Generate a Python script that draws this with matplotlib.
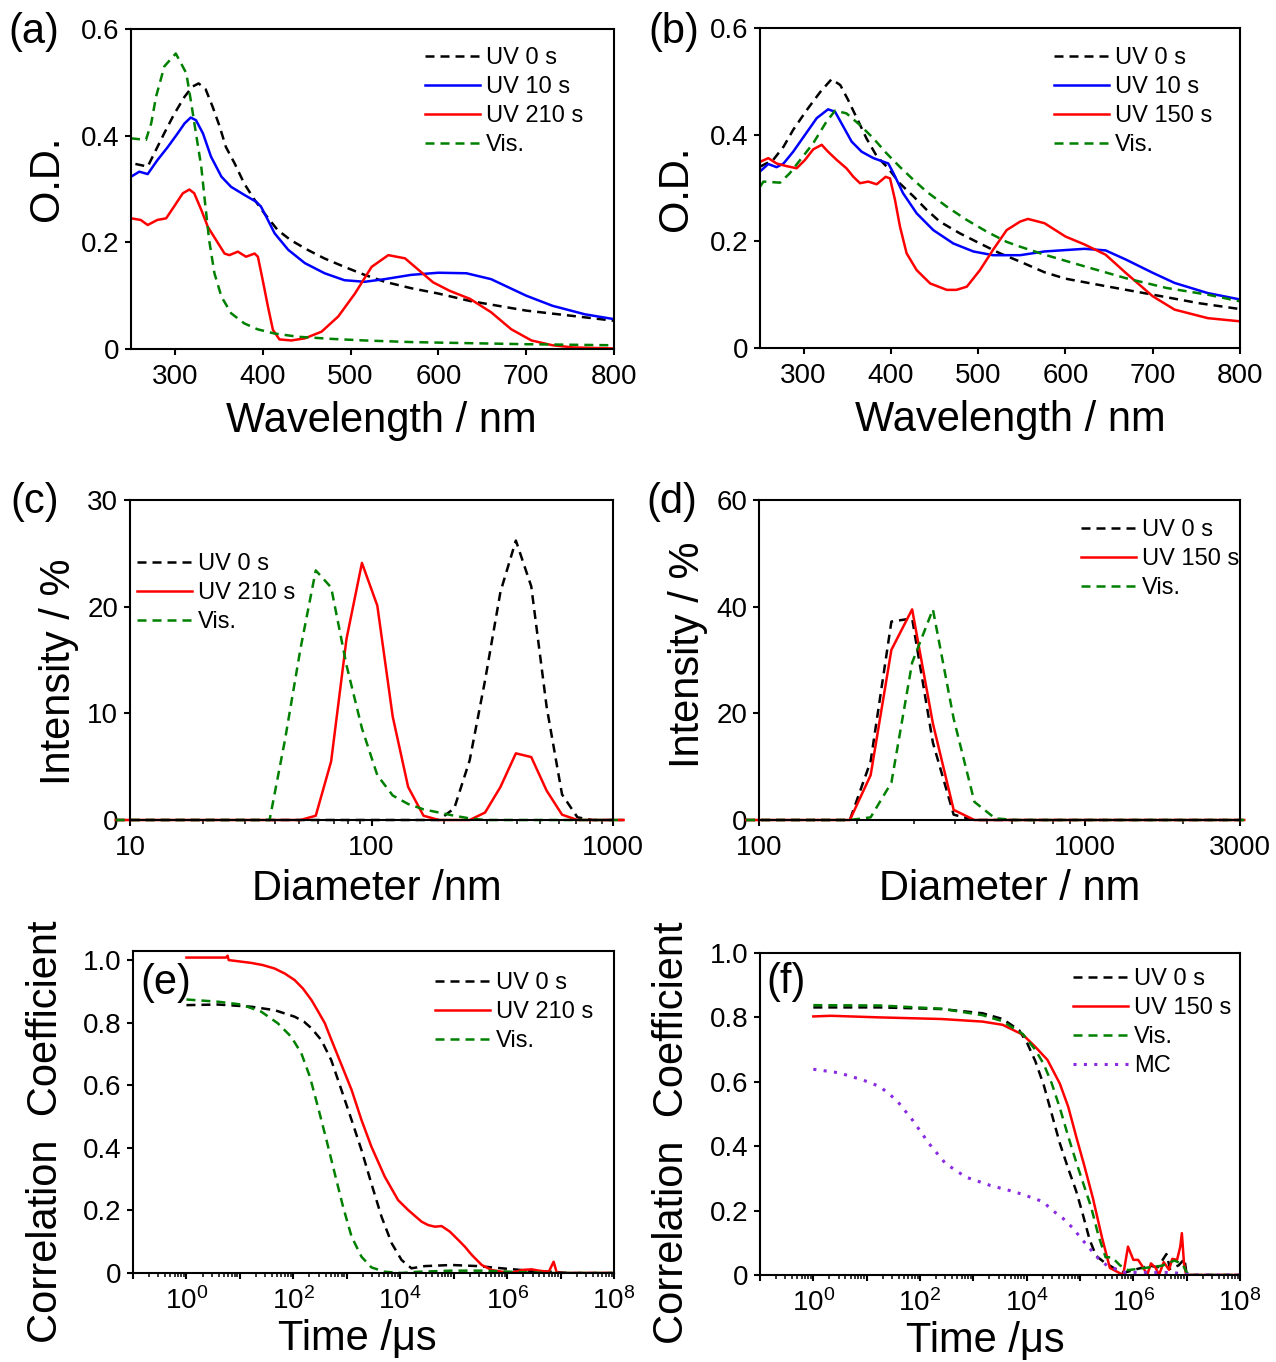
import numpy as np
import matplotlib
matplotlib.use('Agg')
import matplotlib.pyplot as plt
from matplotlib.ticker import LogLocator, NullFormatter, FixedLocator

plt.rcParams['font.family'] = ['Liberation Sans', 'DejaVu Sans']
plt.rcParams['mathtext.fontset'] = 'custom'
plt.rcParams['mathtext.rm'] = 'Liberation Sans'
plt.rcParams['mathtext.it'] = 'Liberation Sans:italic'
plt.rcParams['mathtext.bf'] = 'Liberation Sans:bold'
plt.rcParams['axes.linewidth'] = 1.5

# ---------------- (a) UV-vis, 210 s ----------------
a_uv0_wl = [255, 269, 288, 299, 311, 320, 327, 335, 343, 351, 358, 368, 379, 391, 402, 417, 432,
            451, 470, 493, 516, 539, 569, 600, 636, 700, 753, 800]
a_uv0_od = [0.347, 0.342, 0.405, 0.44, 0.473, 0.492, 0.498, 0.487, 0.454, 0.417, 0.379, 0.348, 0.31,
            0.279, 0.254, 0.223, 0.204, 0.186, 0.17, 0.154, 0.139, 0.126, 0.114, 0.104, 0.09, 0.072,
            0.062, 0.053]
a_uv10_wl = [250, 259.5, 269, 280, 292, 303, 311, 318, 324, 332, 341, 353, 364, 379, 392.6, 398, 404,
             413.5, 429, 448, 470.5, 493, 516, 539, 569, 600, 632, 660, 700, 730, 767, 800]
a_uv10_od = [0.323, 0.3325, 0.328, 0.354, 0.379, 0.404, 0.423, 0.434, 0.429, 0.404, 0.361, 0.323,
             0.304, 0.289, 0.276, 0.267, 0.248, 0.217, 0.186, 0.161, 0.142, 0.129, 0.126, 0.131,
             0.139, 0.143, 0.142, 0.131, 0.1, 0.081, 0.065, 0.056]
a_uv210_wl = [250, 261, 269, 280, 290, 299, 309, 316.5, 322, 330, 337.5, 347, 356.5, 362, 371.7, 381,
              390.7, 394.5, 400, 406, 411.6, 419, 432.5, 448, 467, 486, 505, 524, 543, 562, 594, 613,
              636, 660, 683, 706, 730, 753, 800]
a_uv210_od = [0.245, 0.242, 0.2325, 0.242, 0.245, 0.267, 0.292, 0.299, 0.292, 0.261, 0.229, 0.204,
              0.179, 0.176, 0.1825, 0.173, 0.179, 0.173, 0.129, 0.079, 0.036, 0.018, 0.016, 0.02,
              0.0325, 0.061, 0.104, 0.154, 0.176, 0.17, 0.125, 0.109, 0.094, 0.069, 0.037, 0.016,
              0.007, 0.003, 0.001]
a_vis_wl = [250, 267, 273, 278.5, 288, 301, 313, 318, 324, 330, 334, 339, 345, 353, 364, 379, 394,
            413.5, 440, 478, 516, 569, 600, 700, 800]
a_vis_od = [0.395, 0.392, 0.423, 0.473, 0.53, 0.554, 0.517, 0.467, 0.404, 0.342, 0.279, 0.204, 0.142,
            0.098, 0.067, 0.048, 0.037, 0.029, 0.023, 0.019, 0.016, 0.013, 0.012, 0.009, 0.007]

# ---------------- (b) UV-vis, 150 s ----------------
b_uv0_wl = [250, 265, 277, 288, 303.5, 319, 332, 342, 351, 363, 372, 384, 397, 410, 426, 441, 456,
            479, 502, 525, 548, 576, 600, 646, 700, 753, 800]
b_uv0_od = [0.34, 0.3525, 0.3775, 0.409, 0.446, 0.48, 0.504, 0.493, 0.465, 0.424, 0.393, 0.359, 0.337,
            0.309, 0.284, 0.259, 0.237, 0.215, 0.196, 0.1775, 0.162, 0.142, 0.13, 0.116, 0.1, 0.084,
            0.073]
b_uv10_wl = [250, 259.5, 269, 277, 288, 300, 315, 328, 336, 345.5, 355, 366.5, 380, 397, 403, 414,
             429.5, 448.6, 471.5, 494.5, 517, 548, 576, 622, 646, 669, 700, 725, 763, 800]
b_uv10_od = [0.331, 0.345, 0.339, 0.346, 0.368, 0.396, 0.431, 0.4475, 0.443, 0.415, 0.387, 0.368,
             0.356, 0.346, 0.3275, 0.29, 0.2525, 0.221, 0.196, 0.181, 0.174, 0.174, 0.181, 0.186,
             0.183, 0.166, 0.141, 0.122, 0.103, 0.091]
b_uv150_wl = [250, 259.5, 269, 280.5, 292, 301.5, 311, 320.7, 328, 338, 349, 357, 364.6, 374, 383.7,
              394, 399, 404.7, 410.4, 418, 429.5, 445, 464, 475, 487, 502, 517, 532.6, 548, 557, 576,
              600, 622, 646, 669, 700, 725, 763, 800]
b_uv150_od = [0.349, 0.356, 0.346, 0.341, 0.337, 0.3525, 0.3725, 0.381, 0.368, 0.3525, 0.337, 0.321,
              0.309, 0.312, 0.307, 0.321, 0.318, 0.2775, 0.2275, 0.1775, 0.146, 0.121, 0.109, 0.109,
              0.115, 0.146, 0.184, 0.221, 0.237, 0.242, 0.234, 0.209, 0.194, 0.175, 0.141, 0.097,
              0.072, 0.056, 0.05]
b_vis_wl = [250, 254, 273, 284, 296, 311, 326, 336, 349, 364.6, 380, 395, 410, 426, 441, 464, 487,
            510, 532.6, 548, 576, 622, 669, 716, 763, 800]
b_vis_od = [0.3025, 0.312, 0.31, 0.3275, 0.3525, 0.384, 0.424, 0.445, 0.44, 0.418, 0.393, 0.365, 0.34,
            0.315, 0.293, 0.265, 0.24, 0.218, 0.199, 0.19, 0.175, 0.153, 0.131, 0.1125, 0.1, 0.0875]

# ---------------- (c) DLS size, 210 s ----------------
c_diam = [8.721, 10.1, 11.7, 13.54, 15.69, 18.17, 21.04, 24.36, 28.21, 32.67, 37.84, 43.82, 50.75,
          58.77, 68.06, 78.82, 91.28, 105.7, 122.4, 141.8, 164.2, 190.1, 220.2, 255.0, 295.3, 342.0,
          396.1, 458.7, 531.2, 615.1, 712.4, 825.0, 955.4, 1106]
c_uv0 = [0, 0, 0, 0, 0, 0, 0, 0, 0, 0, 0, 0, 0, 0, 0, 0, 0, 0, 0, 0, 0, 0,
         1.1, 5.6, 13.1, 21.4, 26.2, 21.9, 10.6, 2.4, 0.25, 0, 0, 0]
c_uv210 = [0, 0, 0, 0, 0, 0, 0, 0, 0, 0, 0, 0, 0, 0.4, 5.5, 17.0, 24.1, 20.1, 9.7, 3.1, 0.4, 0,
           0, 0, 0.7, 3.1, 6.25, 5.9, 2.75, 0.5, 0, 0, 0, 0]
c_vis = [0, 0, 0, 0, 0, 0, 0, 0, 0, 0, 0, 7.5, 16.0, 23.4, 21.8, 14.5, 8.6, 4.2, 2.3, 1.5, 1.0, 0.7,
         0.4, 0.15, 0, 0, 0, 0, 0, 0, 0, 0, 0, 0]

# ---------------- (d) DLS size, 150 s ----------------
d_diam = [91.28, 105.7, 122.4, 141.8, 164.2, 190.1, 220.2, 255.0, 295.3, 342.0, 396.1, 458.7, 531.2,
          615.1, 712.4, 825.0, 955.4, 1106, 1281, 1484, 1718, 1990, 2305, 2669, 3091]
d_uv0 = [0, 0, 0, 0, 0, 0, 11.0, 37.2, 37.8, 14.5, 1.0, 0, 0, 0, 0, 0, 0, 0, 0, 0, 0, 0, 0, 0, 0]
d_uv150 = [0, 0, 0, 0, 0, 0, 8.4, 31.9, 39.5, 18.1, 1.9, 0, 0, 0, 0, 0, 0, 0, 0, 0, 0, 0, 0, 0, 0]
d_vis = [0, 0, 0, 0, 0, 0, 0.5, 7.0, 29.5, 39.5, 19.0, 3.4, 0.3, 0, 0, 0, 0, 0, 0, 0, 0, 0, 0, 0, 0]

# ---------------- (e) correlation, 210 s (time as log10 of us) ----------------
e_uv0_lt = [0, 0.59, 1.21, 1.65, 2.025, 2.2, 2.34, 2.525, 2.71, 2.9, 3.09, 3.275, 3.46, 3.65, 3.84,
            4.025, 4.21, 4.46, 4.96, 5.46, 5.9, 6.4, 6.9, 7.15, 8.0]
e_uv0 = [0.856, 0.858, 0.851, 0.84, 0.819, 0.803, 0.782, 0.744, 0.68, 0.585, 0.489, 0.393, 0.286,
         0.18, 0.095, 0.0415, 0.015, 0.022, 0.0256, 0.022, 0.015, 0.0075, 0.003, 0.0, 0.0]
e_uv210_lt = [0, 0.74, 0.77, 0.79, 1.21, 1.43, 1.65, 1.84, 2.025, 2.18, 2.34, 2.46, 2.59, 2.71, 2.84,
              3.09, 3.275, 3.46, 3.71, 3.96, 4.15, 4.4, 4.525, 4.65, 4.775, 4.93, 5.09, 5.21, 5.34,
              5.525, 5.71, 5.9, 6.09, 6.275, 6.46, 6.59, 6.78, 6.87, 6.93, 7.03, 8.0]
e_uv210 = [1.008, 1.008, 1.014, 1.0, 0.991, 0.984, 0.973, 0.957, 0.936, 0.909, 0.872, 0.837, 0.798,
           0.746, 0.691, 0.585, 0.489, 0.404, 0.308, 0.233, 0.201, 0.164, 0.153, 0.148, 0.15, 0.132,
           0.105, 0.084, 0.0575, 0.0256, 0.0096, 0.004, 0.001, 0.0096, 0.0117, 0.0075, 0.004, 0.036,
           0.001, 0.0, 0.0]
e_vis_lt = [0, 0.59, 1.025, 1.4, 1.71, 1.96, 2.15, 2.31, 2.46, 2.62, 2.775, 2.93, 3.09, 3.275, 3.46,
            3.71, 4.025, 4.34, 4.96, 5.59, 6.21, 6.84, 8.0]
e_vis = [0.874, 0.867, 0.858, 0.835, 0.798, 0.755, 0.702, 0.627, 0.531, 0.425, 0.318, 0.212, 0.116,
         0.052, 0.018, 0.004, 0.0, 0.004, 0.0075, 0.0075, 0.003, 0.0, 0.0]

# ---------------- (f) correlation, 150 s ----------------
f_uv0_lt = [0, 1.25, 2.4, 3.17, 3.55, 3.86, 4.01, 4.16, 4.32, 4.47, 4.62, 4.78, 4.93, 5.05, 5.18,
            5.3, 5.45, 5.6, 5.75, 5.85, 6.08, 6.31, 6.46, 6.62, 6.69, 6.85, 6.96, 7.0, 8.0]
f_uv0 = [0.831, 0.831, 0.826, 0.813, 0.795, 0.76, 0.72, 0.665, 0.59, 0.5, 0.41, 0.33, 0.26, 0.19,
         0.11, 0.06, 0.04, 0.025, 0.01, 0.008, 0.019, 0.029, 0.024, 0.065, 0.019, 0.03, 0.05, 0.0, 0.0]
f_uv150_lt = [0, 0.33, 1.25, 2.4, 3.17, 3.55, 3.93, 4.16, 4.39, 4.62, 4.78, 4.93, 5.08, 5.24, 5.41,
              5.56, 5.81, 5.9, 6.0, 6.09, 6.19, 6.26, 6.33, 6.42, 6.48, 6.57, 6.67, 6.73, 6.82, 6.88,
              6.91, 6.95, 6.99, 8.0]
f_uv150 = [0.803, 0.805, 0.8, 0.795, 0.787, 0.777, 0.746, 0.709, 0.668, 0.595, 0.522, 0.429, 0.34,
           0.24, 0.118, 0.022, 0.0, 0.088, 0.047, 0.047, 0.022, 0.0, 0.036, 0.022, 0.0, 0.04, 0.016,
           0.05, 0.047, 0.088, 0.13, 0.036, 0.0, 0.0]
f_vis_lt = [0, 1.25, 2.4, 3.17, 3.55, 3.93, 4.16, 4.32, 4.47, 4.62, 4.78, 4.93, 5.09, 5.21, 5.35,
            5.48, 5.6, 5.75, 5.9, 6.08, 6.31, 6.54, 6.77, 6.92, 7.0, 7.08, 8.0]
f_vis = [0.838, 0.837, 0.827, 0.807, 0.788, 0.748, 0.7, 0.655, 0.595, 0.52, 0.43, 0.35, 0.27, 0.21,
         0.12, 0.055, 0.055, 0.03, 0.015, 0.019, 0.024, 0.029, 0.045, 0.034, 0.008, 0.0, 0.0]
f_mc_lt = [0, 0.48, 0.94, 1.25, 1.56, 1.86, 2.17, 2.48, 2.86, 3.32, 3.78, 4.05, 4.3, 4.49, 4.68, 4.87,
           5.02, 5.18, 5.34, 5.53, 5.68, 5.85, 6.23, 6.62, 6.92, 7.08, 8.0]
f_mc = [0.639, 0.628, 0.605, 0.585, 0.543, 0.481, 0.408, 0.346, 0.304, 0.278, 0.258, 0.243, 0.228,
        0.2, 0.176, 0.145, 0.114, 0.083, 0.052, 0.026, 0.018, 0.008, 0.008, 0.008, 0.005, 0.0, 0.0]

# ---------------- figure ----------------
W, H = 1276, 1362
fig = plt.figure(figsize=(W / 100, H / 100), dpi=100)


def px_axes(l, t, r, b):
    return fig.add_axes([l / W, 1 - b / H, (r - l) / W, (b - t) / H])


BLACK, BLUE, RED, GREEN, PURPLE = 'black', '#0000ff', '#ff0000', '#008000', '#8a2be2'
DASH = (3.6, 2.4)
LW = 1.8


def style(ax):
    ax.tick_params(which='major', direction='out', length=4.5, width=1.5, labelsize=20, pad=4)
    ax.tick_params(axis='x', which='major', pad=6)
    ax.tick_params(which='minor', direction='out', length=2.6, width=1.1)


def legend(ax, x, y):
    ax.legend(loc='upper left', bbox_to_anchor=(x, y), frameon=False, fontsize=17,
              handlelength=2.33, handletextpad=0.25, labelspacing=0.3, borderpad=0,
              borderaxespad=0)


def letter(x, y, s):
    fig.text(x / W, 1 - y / H, s, fontsize=30, ha='left', va='center')


def uvvis(ax, series, xlab_x, ylab_y):
    for wl, od, c, dashed, lab in series:
        if dashed:
            ax.plot(wl, od, color=c, lw=LW, dashes=DASH, label=lab)
        else:
            ax.plot(wl, od, color=c, lw=LW, label=lab)
    ax.set_xlim(250, 800)
    ax.set_ylim(0, 0.6)
    ax.set_xticks([300, 400, 500, 600, 700, 800])
    ax.set_yticks([0, 0.2, 0.4, 0.6], ['0', '0.2', '0.4', '0.6'])
    style(ax)
    ax.set_xlabel('Wavelength / nm', fontsize=30)
    ax.xaxis.set_label_coords(xlab_x, -0.162)
    ax.set_ylabel('O.D.', fontsize=30)
    ax.yaxis.set_label_coords(-0.1325, ylab_y)


# (a)
ax = px_axes(131, 29, 614, 349)
uvvis(ax, [(a_uv0_wl, a_uv0_od, BLACK, True, 'UV 0 s'),
           (a_uv10_wl, a_uv10_od, BLUE, False, 'UV 10 s'),
           (a_uv210_wl, a_uv210_od, RED, False, 'UV 210 s'),
           (a_vis_wl, a_vis_od, GREEN, True, 'Vis.')], 0.518, 0.534)
legend(ax, 0.609, 0.944)
letter(8, 32, '(a)')

# (b)
ax = px_axes(760, 28, 1240, 348)
uvvis(ax, [(b_uv0_wl, b_uv0_od, BLACK, True, 'UV 0 s'),
           (b_uv10_wl, b_uv10_od, BLUE, False, 'UV 10 s'),
           (b_uv150_wl, b_uv150_od, RED, False, 'UV 150 s'),
           (b_vis_wl, b_vis_od, GREEN, True, 'Vis.')], 0.521, 0.5)
legend(ax, 0.6125, 0.94)
letter(648, 32, '(b)')

# (c)
ax = px_axes(130, 500, 613, 820)
ax.plot(c_diam, c_uv0, color=BLACK, lw=LW, dashes=DASH, label='UV 0 s', clip_on=False)
ax.plot(c_diam, c_uv210, color=RED, lw=LW, label='UV 210 s', clip_on=False)
ax.plot(c_diam, c_vis, color=GREEN, lw=LW, dashes=DASH, label='Vis.', clip_on=False)
ax.set_xscale('log')
ax.set_xlim(10, 1000)
ax.set_ylim(0, 30)
ax.xaxis.set_major_locator(FixedLocator([10, 100, 1000]))
ax.set_xticklabels(['10', '100', '1000'])
ax.xaxis.set_minor_locator(FixedLocator([20, 30, 40, 50, 60, 70, 80, 90,
                                         200, 300, 400, 500, 600, 700, 800, 900]))
ax.xaxis.set_minor_formatter(NullFormatter())
ax.set_yticks([0, 10, 20, 30])
style(ax)
ax.set_xlabel('Diameter /nm', fontsize=30)
ax.xaxis.set_label_coords(0.511, -0.153)
ax.set_ylabel('Intensity / %', fontsize=30)
ax.yaxis.set_label_coords(-0.106, 0.4625)
legend(ax, 0.0145, 0.834)
letter(10, 502, '(c)')

# (d)
ax = px_axes(759, 500, 1240, 820)
ax.plot(d_diam, d_uv0, color=BLACK, lw=LW, dashes=DASH, label='UV 0 s', clip_on=False)
ax.plot(d_diam, d_uv150, color=RED, lw=LW, label='UV 150 s', clip_on=False)
ax.plot(d_diam, d_vis, color=GREEN, lw=LW, dashes=DASH, label='Vis.', clip_on=False)
ax.set_xscale('log')
ax.set_xlim(100, 3000)
ax.set_ylim(0, 60)
ax.xaxis.set_major_locator(FixedLocator([100, 1000, 3000]))
ax.set_xticklabels(['100', '1000', '3000'])
ax.xaxis.set_minor_locator(FixedLocator([200, 300, 400, 500, 600, 700, 800, 900, 2000]))
ax.xaxis.set_minor_formatter(NullFormatter())
ax.set_yticks([0, 20, 40, 60])
style(ax)
ax.set_xlabel('Diameter / nm', fontsize=30)
ax.xaxis.set_label_coords(0.522, -0.153)
ax.set_ylabel('Intensity / %', fontsize=30)
ax.yaxis.set_label_coords(-0.106, 0.516)
legend(ax, 0.669, 0.94)
letter(646, 502, '(d)')


def corr(ax, series, ytop, xlab_x, ylab_x, ylab_y):
    for lt, v, c, ls, lab in series:
        t = 10.0 ** np.array(lt)
        if ls == 'dash':
            ax.plot(t, v, color=c, lw=LW, dashes=DASH, label=lab)
        elif ls == 'dot':
            ax.plot(t, v, color=c, lw=2.2, dashes=(1, 2.4), label=lab)
        else:
            ax.plot(t, v, color=c, lw=LW, label=lab)
    ax.set_xscale('log')
    ax.set_xlim(0.1, 1e8)
    ax.set_ylim(0, ytop)
    ax.xaxis.set_major_locator(FixedLocator([10.0 ** k for k in range(-1, 9)]))
    ax.set_xticklabels(['$10^{%d}$' % k if k >= 0 and k % 2 == 0 else '' for k in range(-1, 9)])
    ax.xaxis.set_minor_locator(LogLocator(base=10, subs=range(2, 10), numticks=30))
    ax.xaxis.set_minor_formatter(NullFormatter())
    ax.set_yticks([0, 0.2, 0.4, 0.6, 0.8, 1.0], ['0', '0.2', '0.4', '0.6', '0.8', '1.0'])
    style(ax)
    ax.set_xlabel('Time /\u03bcs', fontsize=30)
    ax.xaxis.set_label_coords(xlab_x, -0.142)
    ax.set_ylabel('Correlation  Coefficient', fontsize=30)
    ax.yaxis.set_label_coords(ylab_x, ylab_y)


# (e)
ax = px_axes(133, 951, 614, 1273)
corr(ax, [(e_uv0_lt, e_uv0, BLACK, 'dash', 'UV 0 s'),
          (e_uv210_lt, e_uv210, RED, 'solid', 'UV 210 s'),
          (e_vis_lt, e_vis, GREEN, 'dash', 'Vis.')], 1.029, 0.466, -0.139, 0.438)
legend(ax, 0.628, 0.935)
letter(140, 983, '(e)')

# (f)
ax = px_axes(760, 953, 1240, 1275)
corr(ax, [(f_uv0_lt, f_uv0, BLACK, 'dash', 'UV 0 s'),
          (f_uv150_lt, f_uv150, RED, 'solid', 'UV 150 s'),
          (f_vis_lt, f_vis, GREEN, 'dash', 'Vis.'),
          (f_mc_lt, f_mc, PURPLE, 'dot', 'MC')], 1.0, 0.469, -0.142, 0.441)
legend(ax, 0.652, 0.953)
letter(766, 982, '(f)')

fig.savefig('out.png', dpi=100)
